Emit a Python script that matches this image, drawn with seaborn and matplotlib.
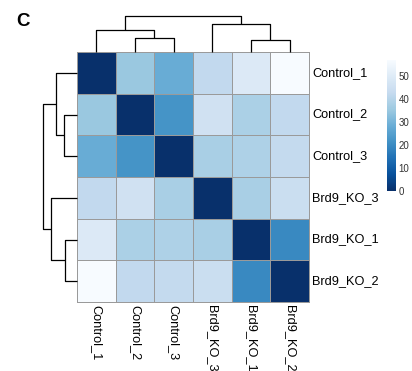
import numpy as np
import pandas as pd
import matplotlib
matplotlib.use("Agg")
import matplotlib.pyplot as plt
import seaborn as sns

sns.set_style("white")
plt.rcParams["font.family"] = ["Liberation Sans", "DejaVu Sans"]
plt.rcParams["text.color"] = "black"
plt.rcParams["xtick.color"] = "black"
plt.rcParams["ytick.color"] = "black"

# Sample-to-sample distances, in display (clustered) order
samples = ["Control_1", "Control_2", "Control_3", "Brd9_KO_3", "Brd9_KO_1", "Brd9_KO_2"]
dist_control_1 = [0.0, 35.0, 28.0, 42.0, 49.0, 57.0]
dist_control_2 = [35.0, 0.0, 22.0, 45.5, 38.0, 42.0]
dist_control_3 = [28.0, 22.0, 0.0, 37.5, 38.5, 42.5]
dist_ko_3 = [42.0, 45.5, 37.5, 0.0, 37.5, 44.0]
dist_ko_1 = [49.0, 38.0, 38.5, 37.5, 0.0, 19.5]
dist_ko_2 = [57.0, 42.0, 42.5, 44.0, 19.5, 0.0]
cbar_ticks = [0, 10, 20, 30, 40, 50]

D = np.array([dist_control_1, dist_control_2, dist_control_3,
              dist_ko_3, dist_ko_1, dist_ko_2])
df = pd.DataFrame(D, index=samples, columns=samples)


def complete_linkage(dm):
    """Agglomerative clustering with complete linkage.
    Returns merges as (pos_a, h_a, pos_b, h_b, height) with leaf positions
    given by the display order."""
    n = dm.shape[0]
    clusters = {i: ([i], i + 0.5, 0.0) for i in range(n)}
    merges = []
    next_id = n
    while len(clusters) > 1:
        keys = list(clusters)
        best = None
        for a in range(len(keys)):
            for b in range(a + 1, len(keys)):
                ma, mb = clusters[keys[a]][0], clusters[keys[b]][0]
                d = max(dm[i, j] for i in ma for j in mb)
                if best is None or d < best[0]:
                    best = (d, keys[a], keys[b])
        d, ka, kb = best
        ma, pa, ha = clusters.pop(ka)
        mb, pb, hb = clusters.pop(kb)
        merges.append((pa, ha, pb, hb, d))
        clusters[next_id] = (ma + mb, (pa + pb) / 2.0, d)
        next_id += 1
    return merges


merges = complete_linkage(D)
root_h = max(m[4] for m in merges)

W, H = 412, 371
fig = plt.figure(figsize=(W / 100, H / 100), dpi=100)


def fx(px):
    return px / W


def fy(py):
    return 1 - py / H


hm_l, hm_r, hm_t, hm_b = 77, 309, 52, 302
ax = fig.add_axes([fx(hm_l), fy(hm_b), fx(hm_r - hm_l), (hm_b - hm_t) / H])
ax_top = fig.add_axes([fx(hm_l), fy(hm_t), fx(hm_r - hm_l), (hm_t - 16) / H])
ax_left = fig.add_axes([fx(42.7), fy(hm_b), fx(hm_l - 42.7), (hm_b - hm_t) / H])
cax = fig.add_axes([fx(387.3), fy(190.7), fx(8.7), 130.7 / H])

sns.heatmap(df, ax=ax, cmap="Blues_r", vmin=0, vmax=D.max(),
            linewidths=0.6, linecolor="#9a9a9a", cbar_ax=cax,
            xticklabels=samples, yticklabels=samples)
ax.collections[0].set_clip_on(False)
ax.yaxis.tick_right()
ax.tick_params(axis="both", length=0, labelsize=9.2, pad=2.5)
plt.setp(ax.get_yticklabels(), rotation=0, va="center", ha="left")
plt.setp(ax.get_xticklabels(), rotation=-90, ha="center", va="top")
ax.set_xlabel("")
ax.set_ylabel("")

# Colour key
cbar = ax.collections[0].colorbar
cbar.set_ticks(cbar_ticks)
cbar.outline.set_visible(False)
cax.tick_params(length=0, labelsize=7, pad=2, colors="#333333")

# Dendrograms
line_kw = dict(color="black", lw=0.9, clip_on=False, solid_capstyle="butt")
for pa, ha, pb, hb, h in merges:
    ax_top.plot([pa, pa, pb, pb], [ha, h, h, hb], **line_kw)
    ax_left.plot([ha, h, h, hb], [pa, pa, pb, pb], **line_kw)
ax_top.set_xlim(0, len(samples))
ax_top.set_ylim(0, root_h)
ax_left.set_ylim(len(samples), 0)
ax_left.set_xlim(root_h, 0)
for a in (ax_top, ax_left):
    a.set_axis_off()

fig.text(fx(16.5), fy(25.7), "C", fontsize=13.5, fontweight="bold",
         color="black", ha="left", va="baseline")

fig.savefig("out.png", dpi=100)
